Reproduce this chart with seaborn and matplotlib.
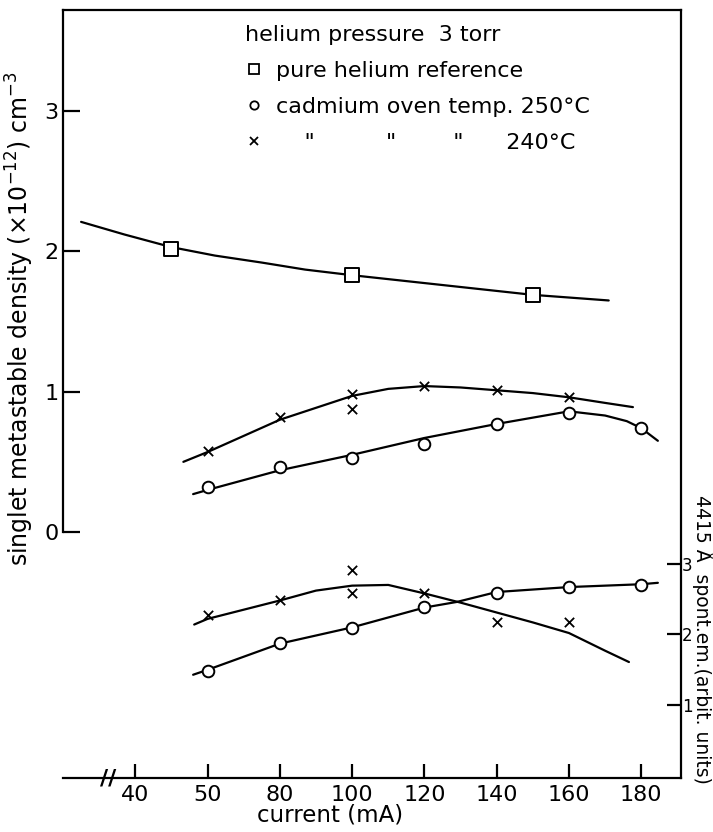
import numpy as np
import pandas as pd
import matplotlib
matplotlib.use("Agg")
import matplotlib.pyplot as plt
from matplotlib.lines import Line2D
import seaborn as sns

# ---------------- data ----------------
# x-axis ticks (current, mA) and their printed labels
x_ticks = [40, 60, 80, 100, 120, 140, 160, 180]
x_tick_labels = ["40", "50", "80", "100", "120", "140", "160", "180"]
left_ticks = [0, 1, 2, 3]
right_ticks = [1, 2, 3]

# pure helium reference (left axis, x10^12 cm^-3)
he_x = [50, 100, 150]
he_y = [2.02, 1.83, 1.69]
he_curve_x = [25, 37, 50, 62, 75, 87, 100, 125, 150, 171]
he_curve_y = [2.21, 2.12, 2.03, 1.97, 1.92, 1.87, 1.83, 1.76, 1.69, 1.65]

# 240 C, metastable density (left axis)
m240_x = [60, 80, 100, 100, 120, 140, 160]
m240_y = [0.58, 0.82, 0.98, 0.88, 1.04, 1.01, 0.96]
m240_curve_x = [53.3, 60, 80, 100, 110, 120, 130, 140, 150, 160, 170, 177.7]
m240_curve_y = [0.50, 0.57, 0.80, 0.97, 1.02, 1.04, 1.03, 1.01, 0.99, 0.96, 0.92, 0.89]

# 250 C, metastable density (left axis)
m250_x = [60, 80, 100, 120, 140, 160, 180]
m250_y = [0.32, 0.46, 0.53, 0.63, 0.77, 0.85, 0.74]
m250_curve_x = [56, 60, 80, 100, 120, 140, 160, 170, 176, 180, 184.6]
m250_curve_y = [0.27, 0.30, 0.44, 0.55, 0.67, 0.77, 0.86, 0.83, 0.79, 0.74, 0.65]

# 240 C, 4415 A spontaneous emission (right axis)
e240_x = [60, 80, 100, 100, 120, 140, 160]
e240_y = [2.28, 2.49, 2.91, 2.59, 2.58, 2.18, 2.18]
e240_curve_x = [56.3, 60, 70, 80, 90, 100, 110, 120, 130, 140, 150, 160, 170, 176.6]
e240_curve_y = [2.14, 2.22, 2.35, 2.48, 2.62, 2.69, 2.70, 2.58, 2.45, 2.31, 2.17, 2.02, 1.77, 1.61]

# 250 C, 4415 A spontaneous emission (right axis)
e250_x = [60, 80, 100, 120, 140, 160, 180]
e250_y = [1.49, 1.88, 2.09, 2.39, 2.59, 2.67, 2.70]
e250_curve_x = [56, 60, 80, 100, 120, 129, 140, 160, 180, 184.6]
e250_curve_y = [1.43, 1.50, 1.87, 2.10, 2.38, 2.46, 2.60, 2.67, 2.71, 2.73]

# ---------------- styling ----------------
sns.set_style("white")
plt.rcParams["font.family"] = ["DejaVu Sans"]
plt.rcParams["text.color"] = "black"
plt.rcParams["axes.labelcolor"] = "black"
plt.rcParams["xtick.color"] = "black"
plt.rcParams["ytick.color"] = "black"
FS = 16

fig = plt.figure(figsize=(7.13, 8.32), dpi=100)
ax = fig.add_axes([0.0884, 0.0649, 0.8667, 0.9231])
ax2 = ax.twinx()

LW = 1.6
k = "black"

def curve(a, xs, ys):
    sns.lineplot(x=xs, y=ys, ax=a, sort=False, estimator=None, color=k, lw=LW, legend=False)

# left-axis series
curve(ax, he_curve_x, he_curve_y)
curve(ax, m240_curve_x, m240_curve_y)
curve(ax, m250_curve_x, m250_curve_y)
sns.scatterplot(x=he_x, y=he_y, ax=ax, marker="s", s=110, facecolor="white",
                edgecolor=k, linewidth=1.4, zorder=5)
sns.scatterplot(x=m240_x, y=m240_y, ax=ax, marker="x", s=45, color=k,
                linewidth=1.3, zorder=5)
sns.scatterplot(x=m250_x, y=m250_y, ax=ax, marker="o", s=70, facecolor="white",
                edgecolor=k, linewidth=1.4, zorder=5)

# right-axis series
curve(ax2, e240_curve_x, e240_curve_y)
curve(ax2, e250_curve_x, e250_curve_y)
sns.scatterplot(x=e240_x, y=e240_y, ax=ax2, marker="x", s=45, color=k,
                linewidth=1.3, zorder=5)
sns.scatterplot(x=e250_x, y=e250_y, ax=ax2, marker="o", s=70, facecolor="white",
                edgecolor=k, linewidth=1.4, zorder=5)

# limits
ax.set_xlim(20, 191)
ax.set_ylim(-1.753, 3.72)
ax2.set_ylim(-0.03, 10.83)

# spines
for a in (ax, ax2):
    for s in a.spines.values():
        s.set_linewidth(1.6)
        s.set_color(k)
ax.spines["right"].set_visible(False)
ax.spines["left"].set_bounds(0, 3.72)
for s in ("top", "bottom", "left"):
    ax2.spines[s].set_visible(False)

# ticks
ax.set_xticks(x_ticks)
ax.set_xticklabels(x_tick_labels)
ax.set_yticks(left_ticks)
ax.set_yticklabels([str(v) for v in left_ticks])
ax2.set_yticks(right_ticks)
ax2.set_yticklabels([str(v) for v in right_ticks])
ax.tick_params(axis="x", direction="in", length=10, width=1.6, pad=5, labelsize=FS,
               bottom=True, top=False, colors=k)
ax.tick_params(axis="y", direction="in", length=12, width=1.6, pad=3, labelsize=FS,
               left=True, right=False, colors=k)
ax2.tick_params(axis="y", direction="in", length=10, width=1.6, pad=0.5, labelsize=12,
                right=True, colors=k)

# axis break marks
ax.text(32.5, 0, "//", transform=ax.get_xaxis_transform(), ha="center", va="center",
        fontsize=FS, fontweight="bold", color=k)

# labels
ax.set_xlabel("current (mA)", fontsize=16.5, color=k)
ax.xaxis.set_label_coords(0.432, -0.033)
ax.set_ylabel("singlet metastable density (×10$^{-12}$) cm$^{-3}$", fontsize=17, color=k)
ax.yaxis.set_label_coords(-0.044, 0.598)
ax2.set_ylabel("4415 Å  spont.em.(arbit. units)", fontsize=13.5, rotation=270,
               va="center", color=k)
ax2.yaxis.set_label_coords(1.036, 0.18)

# legend
handles = [
    Line2D([], [], ls="none", marker="s", ms=7, mfc="white", mec=k, mew=1.3),
    Line2D([], [], ls="none", marker="o", ms=6, mfc="white", mec=k, mew=1.3),
    Line2D([], [], ls="none", marker="x", ms=6, color=k, mew=1.3),
]
labels = [
    "pure helium reference",
    "cadmium oven temp. 250°C",
    "    \"          \"        \"      240°C",
]
leg = ax.legend(handles, labels, title="helium pressure  3 torr", loc="upper left",
                bbox_to_anchor=(0.28, 0.992), frameon=False, fontsize=FS,
                title_fontsize=FS, handlelength=0.8, handletextpad=0.6,
                labelspacing=0.72, alignment="left", borderaxespad=0,
                labelcolor=k)
leg.get_title().set_color(k)

fig.savefig("out.png", dpi=100)
